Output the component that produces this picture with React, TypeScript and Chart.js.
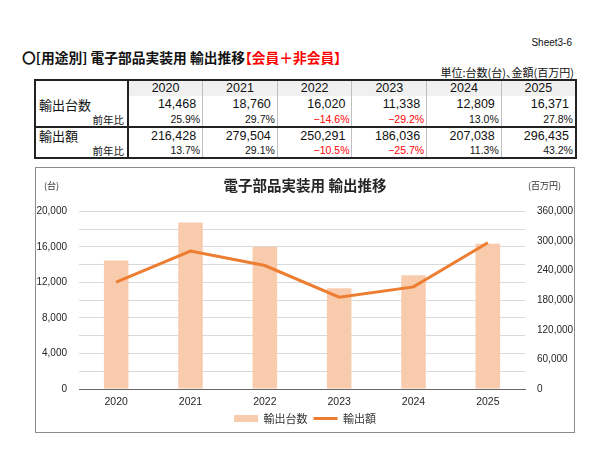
import React, { useEffect, useRef } from "react";
import { Chart, registerables } from "chart.js";

Chart.register(...registerables);

const years = ["2020", "2021", "2022", "2023", "2024", "2025"];
const units = [14468, 18760, 16020, 11338, 12809, 16371];
const unitsYoY = [25.9, 29.7, -14.6, -29.2, 13.0, 27.8];
const amounts = [216428, 279504, 250291, 186036, 207038, 296435];
const amountsYoY = [13.7, 29.1, -10.5, -25.7, 11.3, 43.2];
const unitsLabel = "輸出台数";
const amountsLabel = "輸出額";
const yoyLabel = "前年比";

const JP = '"Noto Sans CJK JP", "Liberation Sans", sans-serif';
const NUM = '"Liberation Sans", Arial, sans-serif';

const fmt = (v: number) => v.toLocaleString("en-US");
const fmtPct = (v: number) => (v < 0 ? "−" + Math.abs(v).toFixed(1) : v.toFixed(1)) + "%";

function DataTable() {
  const colW = (541 - 93) / 6;
  const heights = [15, 17, 13, 16, 13];
  const thin = "1px solid #bfbfbf";
  const thick = "2px solid #222";
  const cell = (extra: React.CSSProperties): React.CSSProperties => ({
    padding: "0 3px",
    whiteSpace: "nowrap",
    overflow: "hidden",
    boxSizing: "border-box",
    ...extra,
  });
  const yearCells = (vals: string[], style: (i: number) => React.CSSProperties) =>
    vals.map((v, i) => (
      <td key={i} style={cell({ borderLeft: i === 0 ? thick : thin, ...style(i) })}>
        {v}
      </td>
    ));
  return (
    <table
      style={{
        position: "absolute",
        left: 34,
        top: 79,
        width: 541,
        borderCollapse: "collapse",
        tableLayout: "fixed",
        border: thick,
        fontFamily: NUM,
        color: "#111",
      }}
    >
      <colgroup>
        <col style={{ width: 93 }} />
        {years.map((y) => (
          <col key={y} style={{ width: colW }} />
        ))}
      </colgroup>
      <tbody>
        <tr style={{ height: heights[0] }}>
          <td style={cell({ background: "#fff" })}></td>
          {yearCells(years, () => ({
            background: "#f0f0f0",
            textAlign: "center",
            fontSize: 12.5,
            lineHeight: heights[0] + "px",
          }))}
        </tr>
        <tr style={{ height: heights[1] }}>
          <td style={cell({ fontFamily: JP, fontSize: 13, lineHeight: heights[1] + "px" })}>{unitsLabel}</td>
          {yearCells(units.map(fmt), () => ({ textAlign: "right", fontSize: 12.5, lineHeight: heights[1] + "px", paddingRight: 6 }))}
        </tr>
        <tr style={{ height: heights[2] }}>
          <td style={cell({ fontFamily: JP, fontSize: 10.5, textAlign: "right", lineHeight: heights[2] + "px" })}>{yoyLabel}</td>
          {yearCells(unitsYoY.map(fmtPct), (i) => ({
            textAlign: "right",
            fontSize: 10.5,
            lineHeight: heights[2] + "px",
            paddingRight: 2,
            color: unitsYoY[i] < 0 ? "#ff0000" : "#111",
          }))}
        </tr>
        <tr style={{ height: heights[3], borderTop: thick }}>
          <td style={cell({ fontFamily: JP, fontSize: 13, lineHeight: heights[3] + "px" })}>{amountsLabel}</td>
          {yearCells(amounts.map(fmt), () => ({ textAlign: "right", fontSize: 12.5, lineHeight: heights[3] + "px", paddingRight: 6 }))}
        </tr>
        <tr style={{ height: heights[4] }}>
          <td style={cell({ fontFamily: JP, fontSize: 10.5, textAlign: "right", lineHeight: heights[4] + "px" })}>{yoyLabel}</td>
          {yearCells(amountsYoY.map(fmtPct), (i) => ({
            textAlign: "right",
            fontSize: 10.5,
            lineHeight: heights[4] + "px",
            paddingRight: 2,
            color: amountsYoY[i] < 0 ? "#ff0000" : "#111",
          }))}
        </tr>
      </tbody>
    </table>
  );
}

export default function App() {
  const ref = useRef<HTMLCanvasElement | null>(null);

  useEffect(() => {
    if (!ref.current) return;
    const chart = new Chart(ref.current, {
      data: {
        labels: years,
        datasets: [
          {
            type: "bar",
            label: unitsLabel,
            data: units,
            yAxisID: "y",
            backgroundColor: "#F8CBAD",
            borderWidth: 0,
            barPercentage: 0.33,
            categoryPercentage: 1,
            order: 2,
          },
          {
            type: "line",
            label: amountsLabel,
            data: amounts,
            yAxisID: "y1",
            borderColor: "#ED7D31",
            backgroundColor: "#ED7D31",
            borderWidth: 3,
            pointRadius: 0,
            tension: 0,
            order: 1,
          },
        ],
      } as any,
      options: {
        responsive: false,
        animation: false,
        devicePixelRatio: 1,
        layout: { padding: { left: 0, right: 0, top: 0, bottom: -2 } },
        plugins: {
          title: {
            display: true,
            text: "電子部品実装用 輸出推移",
            color: "#262626",
            font: { family: JP, size: 14.5, weight: "bold" },
            padding: { top: 9, bottom: 17 },
          },
          legend: {
            position: "bottom",
            labels: {
              color: "#333",
              font: { family: JP, size: 11 },
              usePointStyle: true,
              pointStyleWidth: 24,
              boxHeight: 7,
              padding: 6,
              sort: (a: any, b: any) => a.datasetIndex - b.datasetIndex,
              generateLabels: (c: any) => {
                const base = Chart.defaults.plugins.legend.labels.generateLabels(c);
                return base.map((l: any) =>
                  l.datasetIndex === 0
                    ? { ...l, pointStyle: "rect", lineWidth: 0, strokeStyle: "#F8CBAD", fillStyle: "#F8CBAD" }
                    : { ...l, pointStyle: "line", lineWidth: 3, strokeStyle: "#ED7D31" }
                );
              },
            },
          },
          tooltip: { enabled: false },
        },
        scales: {
          x: {
            grid: { display: false, drawTicks: false },
            border: { display: true, color: "#666" },
            ticks: { color: "#262626", font: { family: NUM, size: 10.5, lineHeight: 1 }, padding: 8 },
            afterFit: (s: any) => {
              s.height = 18;
            },
          },
          y: {
            position: "left",
            min: 0,
            max: 20000,
            grid: { color: "#d9d9d9", drawTicks: false },
            border: { display: false },
            ticks: {
              stepSize: 2000,
              padding: 12,
              color: "#262626",
              font: { family: NUM, size: 10 },
              callback: (v: any) => (Number(v) % 4000 === 0 ? fmt(Number(v)) : ""),
            },
            afterFit: (s: any) => {
              s.width = 43;
            },
          },
          y1: {
            position: "right",
            min: 0,
            max: 360000,
            grid: { drawOnChartArea: false, drawTicks: false },
            border: { display: false },
            ticks: {
              stepSize: 30000,
              padding: 12,
              color: "#262626",
              font: { family: NUM, size: 10 },
              callback: (v: any) => (Number(v) % 60000 === 0 ? fmt(Number(v)) : ""),
            },
            afterFit: (s: any) => {
              s.width = 49;
            },
          },
        },
      } as any,
    });
    return () => chart.destroy();
  }, []);

  return (
    <div
      style={{
        position: "absolute",
        left: 0,
        top: 0,
        width: 600,
        height: 450,
        background: "#fff",
        fontFamily: JP,
        color: "#111",
      }}
    >
      <div style={{ position: "absolute", right: 28, top: 37, fontSize: 10, lineHeight: "12px", fontFamily: NUM }}>
        Sheet3-6
      </div>
      <div
        style={{
          position: "absolute",
          left: 22,
          top: 48,
          fontSize: 13.75,
          lineHeight: "18px",
          fontWeight: "bold",
          whiteSpace: "nowrap",
          fontFeatureSettings: '"palt"',
        }}
      >
        〇[用途別] 電子部品実装用 輸出推移<span style={{ color: "#ff0000" }}>【会員＋非会員】</span>
      </div>
      <div
        style={{
          position: "absolute",
          right: 26,
          top: 66,
          fontSize: 11,
          lineHeight: "13px",
          whiteSpace: "nowrap",
          fontFeatureSettings: '"palt"',
        }}
      >
        単位:台数(台)、金額(百万円)
      </div>
      <DataTable />
      <div
        style={{
          position: "absolute",
          left: 35,
          top: 167,
          width: 540,
          height: 266,
          border: "1px solid #8c8c8c",
          boxSizing: "border-box",
        }}
      />
      <canvas ref={ref} width={538} height={264} style={{ position: "absolute", left: 36, top: 168, width: 538, height: 264 }} />
      <div style={{ position: "absolute", left: 44, top: 180, fontSize: 9, lineHeight: "12px", color: "#333" }}>(台)</div>
      <div style={{ position: "absolute", left: 528, top: 180, fontSize: 9, lineHeight: "12px", color: "#333" }}>(百万円)</div>
    </div>
  );
}
